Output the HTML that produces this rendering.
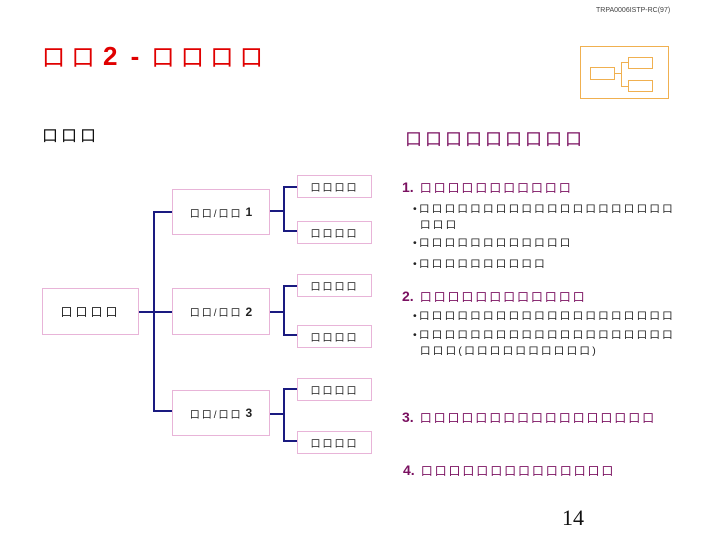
<!DOCTYPE html>
<html><head><meta charset="utf-8"><style>
body{margin:0;width:720px;height:540px;background:#fff;position:relative;overflow:hidden;font-family:"Liberation Sans","Noto Sans CJK SC",sans-serif}
.a{position:absolute;white-space:nowrap;line-height:1}
.t{color:#e00000;font-size:23px;letter-spacing:6.5px}
.h{color:#7a1060;font-size:17px;letter-spacing:3px}
.i{color:#7a1060;font-size:12px;letter-spacing:1.9px}
.n{font-family:"Liberation Sans",sans-serif;font-weight:bold;letter-spacing:0}
.b{color:#222;font-size:10.5px;letter-spacing:2.3px}
.box{position:absolute;border:1.5px solid #e8b4d8;box-sizing:border-box;display:flex;align-items:center;justify-content:center;font-size:10px;color:#222;letter-spacing:2px;white-space:nowrap}
.ln{position:absolute;background:#1a1a80}
</style></head><body>
<div class="a" style="left:596px;top:7px;font-family:'Liberation Sans',sans-serif;font-size:7px;color:#444">TRPA0006ISTP-RC(97)</div>
<div class="a t" style="left:42px;top:46px">口口<span class="n" style="font-size:26px;margin:-3px 12px 0 2px;display:inline-block;word-spacing:6px">2 -</span>口口口口</div>
<div class="a" style="left:42px;top:129px;font-size:16px;letter-spacing:3px;color:#111">口口口</div>
<div style="position:absolute;left:580px;top:46px;width:89px;height:53px;border:1.5px solid #f0b050;box-sizing:border-box"></div>
<div style="position:absolute;left:590px;top:67px;width:25px;height:13px;border:1.5px solid #f0b050;box-sizing:border-box"></div>
<div style="position:absolute;left:628px;top:57px;width:25px;height:12px;border:1.5px solid #f0b050;box-sizing:border-box"></div>
<div style="position:absolute;left:628px;top:80px;width:25px;height:12px;border:1.5px solid #f0b050;box-sizing:border-box"></div>
<div style="position:absolute;left:615px;top:73px;width:6px;height:1px;background:#f0b050"></div>
<div style="position:absolute;left:621px;top:62px;width:1px;height:25px;background:#f0b050"></div>
<div style="position:absolute;left:621px;top:62px;width:7px;height:1px;background:#f0b050"></div>
<div style="position:absolute;left:621px;top:86px;width:7px;height:1px;background:#f0b050"></div>

<div class="box" style="left:42px;top:288px;width:97px;height:47px;font-size:12px;letter-spacing:3px">口口口口</div>
<div class="box" style="left:172px;top:189px;width:98px;height:46px">口口/口口<span class="n" style="margin-left:3px;font-size:12px">1</span></div>
<div class="box" style="left:172px;top:288px;width:98px;height:47px">口口/口口<span class="n" style="margin-left:3px;font-size:12px">2</span></div>
<div class="box" style="left:172px;top:390px;width:98px;height:46px">口口/口口<span class="n" style="margin-left:3px;font-size:12px">3</span></div>
<div class="box" style="left:297px;top:175px;width:75px;height:23px">口口口口</div>
<div class="box" style="left:297px;top:221px;width:75px;height:23px">口口口口</div>
<div class="box" style="left:297px;top:274px;width:75px;height:23px">口口口口</div>
<div class="box" style="left:297px;top:325px;width:75px;height:23px">口口口口</div>
<div class="box" style="left:297px;top:378px;width:75px;height:23px">口口口口</div>
<div class="box" style="left:297px;top:431px;width:75px;height:23px">口口口口</div>

<div class="ln" style="left:139px;top:311px;width:33px;height:2px"></div>
<div class="ln" style="left:153px;top:211px;width:2px;height:201px"></div>
<div class="ln" style="left:153px;top:211px;width:19px;height:2px"></div>
<div class="ln" style="left:153px;top:410px;width:19px;height:2px"></div>
<div class="ln" style="left:270px;top:210px;width:14px;height:2px"></div>
<div class="ln" style="left:283px;top:186px;width:2px;height:46px"></div>
<div class="ln" style="left:283px;top:186px;width:14px;height:2px"></div>
<div class="ln" style="left:283px;top:230px;width:14px;height:2px"></div>
<div class="ln" style="left:270px;top:311px;width:14px;height:2px"></div>
<div class="ln" style="left:283px;top:285px;width:2px;height:51px"></div>
<div class="ln" style="left:283px;top:285px;width:14px;height:2px"></div>
<div class="ln" style="left:283px;top:334px;width:14px;height:2px"></div>
<div class="ln" style="left:270px;top:413px;width:14px;height:2px"></div>
<div class="ln" style="left:283px;top:388px;width:2px;height:54px"></div>
<div class="ln" style="left:283px;top:388px;width:14px;height:2px"></div>
<div class="ln" style="left:283px;top:440px;width:14px;height:2px"></div>

<div class="a h" style="left:405px;top:131px">口口口口口口口口口</div>
<div class="a i" style="left:402px;top:180px"><span class="n" style="font-size:14px;margin-right:6px">1.</span>口口口口口口口口口口口</div>
<div class="a b" style="left:413px;top:204px">•口口口口口口口口口口口口口口口口口口口口</div>
<div class="a b" style="left:420px;top:220px">口口口</div>
<div class="a b" style="left:413px;top:238px">•口口口口口口口口口口口口</div>
<div class="a b" style="left:413px;top:259px">•口口口口口口口口口口</div>
<div class="a i" style="left:402px;top:289px"><span class="n" style="font-size:14px;margin-right:6px">2.</span>口口口口口口口口口口口口</div>
<div class="a b" style="left:413px;top:311px">•口口口口口口口口口口口口口口口口口口口口</div>
<div class="a b" style="left:413px;top:330px">•口口口口口口口口口口口口口口口口口口口口</div>
<div class="a b" style="left:420px;top:346px">口口口(口口口口口口口口口口)</div>
<div class="a i" style="left:402px;top:410px"><span class="n" style="font-size:14px;margin-right:6px">3.</span>口口口口口口口口口口口口口口口口口</div>
<div class="a i" style="left:403px;top:463px"><span class="n" style="font-size:14px;margin-right:6px">4.</span>口口口口口口口口口口口口口口</div>
<div class="a" style="left:562px;top:507px;font-family:'Liberation Serif',serif;font-size:22px;color:#111">14</div>
</body></html>
